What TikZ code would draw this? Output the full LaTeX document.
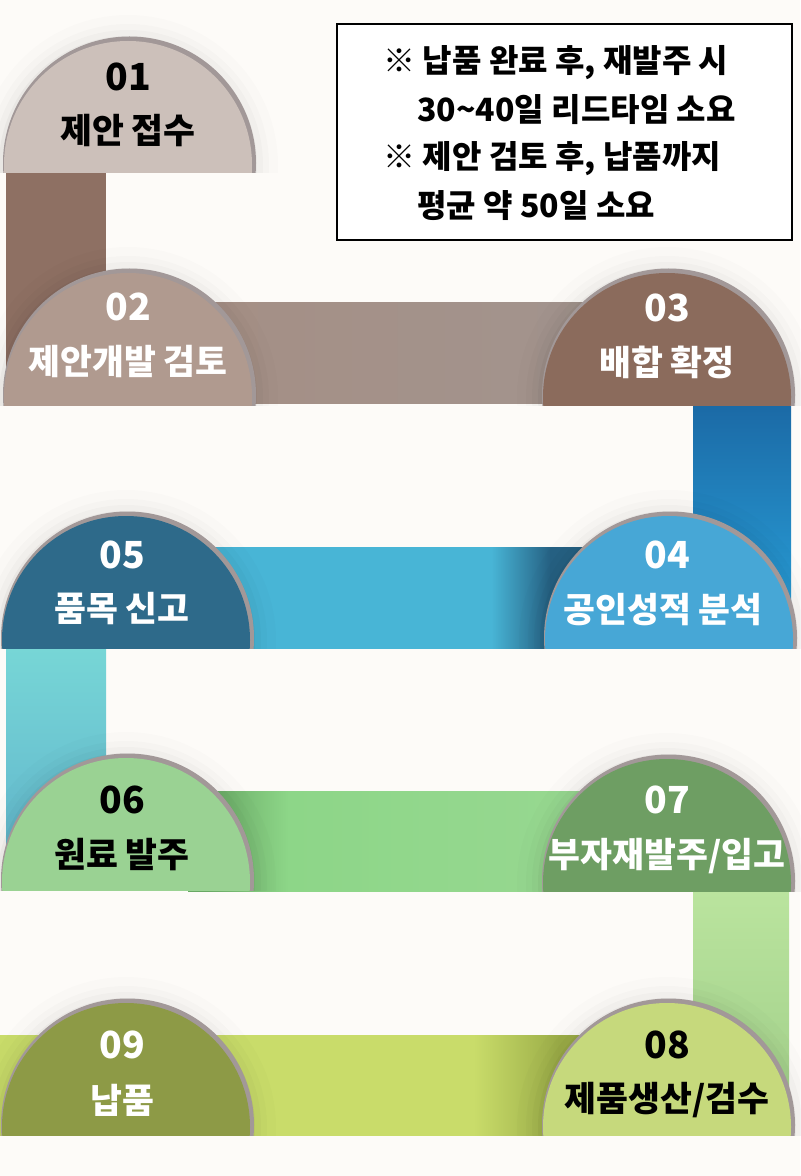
\documentclass[tikz,border=0pt]{standalone}
\usepackage{fontspec}
\newfontfamily\krfont{Noto Sans CJK KR}
\usetikzlibrary{calc}

\definecolor{paper}{RGB}{253,251,248}
\definecolor{domerim}{RGB}{162,152,152}
\definecolor{dome01}{RGB}{204,192,186}
\definecolor{dome02}{RGB}{176,154,143}
\definecolor{dome03}{RGB}{139,107,92}
\definecolor{dome04}{RGB}{71,167,214}
\definecolor{dome05}{RGB}{46,106,138}
\definecolor{dome06}{RGB}{154,210,147}
\definecolor{dome07}{RGB}{110,158,99}
\definecolor{dome08}{RGB}{198,217,124}
\definecolor{dome09}{RGB}{141,154,70}
\definecolor{bluebar}{RGB}{72,181,214}
\definecolor{bluedark}{RGB}{38,98,132}
\definecolor{greenbar}{RGB}{141,214,136}
\definecolor{greenend}{RGB}{152,216,145}
\definecolor{greendark}{RGB}{104,168,100}
\definecolor{limebar}{RGB}{201,220,106}
\definecolor{limedark}{RGB}{156,174,72}
\pgfdeclarehorizontalshading{barfourfive}{100bp}{color(0bp)=(bluebar); color(25bp)=(bluebar); color(61bp)=(bluebar); color(68bp)=(bluedark); color(100bp)=(bluedark)}
\pgfdeclarehorizontalshading{barsixseven}{100bp}{color(0bp)=(greendark); color(27bp)=(greendark); color(37bp)=(greenbar); color(75bp)=(greenend); color(100bp)=(greenend)}
\pgfdeclarehorizontalshading{bareightnine}{100bp}{color(0bp)=(limebar); color(64bp)=(limebar); color(71bp)=(limedark); color(100bp)=(limedark)}
\tikzset{every picture/.style={line width=0.75pt}}
\tikzset{
  numtext/.style={font=\krfont\bfseries\fontsize{28}{32}\selectfont, inner sep=0pt},
  steptext/.style={font=\krfont\bfseries\fontsize{26}{30}\selectfont, inner sep=0pt},
  notetext/.style={font=\krfont\bfseries\fontsize{24}{28}\selectfont, inner sep=0pt, anchor=west},
  notebox/.style={draw=black, line width=1.5pt, fill=white, minimum width=341.25pt, minimum height=162pt, inner sep=0pt}
}
% dome: centre x, bottom y, colour
\newcommand{\dome}[3]{%
  \begin{scope}
    \clip ({#1-170},#2) rectangle ({#1+170},{#2-180});
    \fill[black, opacity=0.012] (#1,{#2-8}) circle (150);
    \fill[black, opacity=0.015] (#1,{#2-8}) circle (141);
    \fill[black, opacity=0.02] (#1,{#2-8}) circle (135);
    \fill[black, opacity=0.03] (#1,{#2-8}) circle (129);
    \fill[domerim] ({#1+1.5},{#2-10}) circle (126.5);
    \fill[#3] (#1,{#2-8}) circle (124);
  \end{scope}}

\begin{document}
\begin{tikzpicture}[x=0.75pt,y=0.75pt,yscale=-1,xscale=1]
\useasboundingbox (0,0) rectangle (800,1176);
\fill[paper] (0,0) rectangle (800,1176);

\coordinate (d1) at (128,173);
\coordinate (d2) at (128,405);
\coordinate (d3) at (667,405);
\coordinate (d4) at (669,648);
\coordinate (d5) at (126,648);
\coordinate (d6) at (126,890);
\coordinate (d7) at (667,891);
\coordinate (d8) at (667,1135);
\coordinate (d9) at (126,1135);

%Shape: Bar 01-02
\fill[color={rgb, 255:red, 142; green, 112; blue, 99 }] ($(d1)+(-122,0)$) rectangle ($(d2)+(-22,-12)$);
%Shape: Bar 02-03
\shade[left color={rgb, 255:red, 165; green, 143; blue, 133 }, right color={rgb, 255:red, 162; green, 148; blue, 142 }] ($(d2)+(60,-102)$) rectangle ($(d3)+(-60,-2)$);
%Shape: Bar 03-04
\shade[top color={rgb, 255:red, 27; green, 106; blue, 166 }, bottom color={rgb, 255:red, 42; green, 163; blue, 220 }] ($(d3)+(26,0)$) rectangle ($(d4)+(122,-12)$);
%Shape: Bar 04-05
\shade[shading=barfourfive] ($(d5)+(62,-101)$) rectangle ($(d4)+(-60,0)$);
%Shape: Bar 05-06
\shade[top color={rgb, 255:red, 119; green, 214; blue, 214 }, bottom color={rgb, 255:red, 96; green, 180; blue, 204 }] ($(d5)+(-120,0)$) rectangle ($(d6)+(-20,-12)$);
%Shape: Bar 06-07
\shade[shading=barsixseven] ($(d6)+(62,-99)$) rectangle ($(d7)+(-60,0)$);
%Shape: Bar 07-08
\shade[top color={rgb, 255:red, 186; green, 228; blue, 158 }, bottom color={rgb, 255:red, 160; green, 206; blue, 136 }] ($(d7)+(26,0)$) rectangle ($(d8)+(122,-12)$);
%Shape: Bar 08-09
\shade[shading=bareightnine] ($(d9)+(-126,-100)$) rectangle ($(d8)+(-60,0)$);

%Shape: Domes
\dome{128}{173}{dome01}
\dome{128}{405}{dome02}
\dome{667}{405}{dome03}
\dome{669}{648}{dome04}
\dome{126}{648}{dome05}
\dome{126}{890}{dome06}
\dome{667}{891}{dome07}
\dome{667}{1135}{dome08}
\dome{126}{1135}{dome09}

%Labels
\node[numtext, text=black] (n01) at (128,77) {01};
\node[steptext, text=black] (t01) at (128,131) {제안 접수};
\node[numtext, text=white] (n02) at (128,307) {02};
\node[steptext, text=white] (t02) at (128,361) {제안개발 검토};
\node[numtext, text=white] (n03) at (667,308) {03};
\node[steptext, text=white] (t03) at (667,362) {배합 확정};
\node[numtext, text=white] (n04) at (667,555) {04};
\node[steptext, text=white] (t04) at (663,610) {공인성적 분석};
\node[numtext, text=white] (n05) at (122,555) {05};
\node[steptext, text=white] (t05) at (122,609) {품목 신고};
\node[numtext, text=black] (n06) at (122,800) {06};
\node[steptext, text=black] (t06) at (122,855) {원료 발주};
\node[numtext, text=white] (n07) at (667,800) {07};
\node[steptext, text=white] (t07) at (667,856) {부자재발주/입고};
\node[numtext, text=black] (n08) at (667,1045) {08};
\node[steptext, text=black] (t08) at (667,1100) {제품생산/검수};
\node[numtext, text=white] (n09) at (122,1045) {09};
\node[steptext, text=white] (t09) at (122,1100) {납품};

%Shape: Note box
\node[notebox] (note) at (564.5,132) {};
\node[notetext] (l1) at (383,63) {※ 납품 완료 후, 재발주 시};
\node[notetext] (l2) at (417,110) {30\textasciitilde40일 리드타임 소요};
\node[notetext] (l3) at (383,159) {※ 제안 검토 후, 납품까지};
\node[notetext] (l4) at (417,206) {평균 약 50일 소요};
\end{tikzpicture}
\end{document}
